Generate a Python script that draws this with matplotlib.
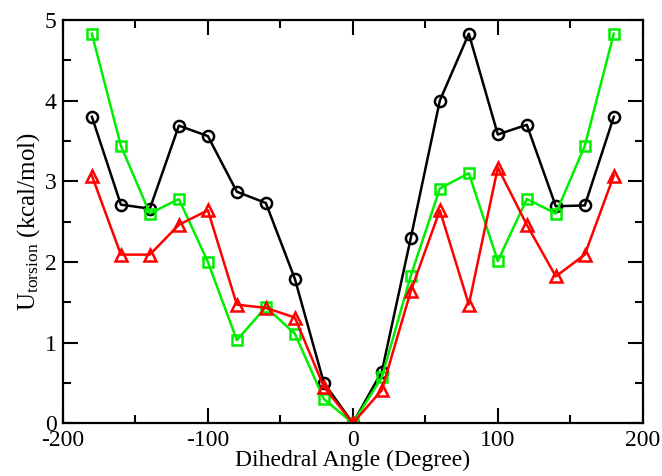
import matplotlib
matplotlib.use("Agg")
import matplotlib.pyplot as plt
from matplotlib.ticker import MultipleLocator

plt.rcParams['font.family'] = ['Liberation Serif', 'DejaVu Serif']
plt.rcParams['mathtext.fontset'] = 'custom'
plt.rcParams['mathtext.rm'] = 'Liberation Serif'
plt.rcParams['mathtext.it'] = 'Liberation Serif:italic'
plt.rcParams['axes.unicode_minus'] = False

angles = [-180, -160, -140, -120, -100, -80, -60, -40, -20, 0,
          20, 40, 60, 80, 100, 120, 140, 160, 180]
black_vals = [3.80, 2.71, 2.66, 3.69, 3.56, 2.87, 2.73, 1.79, 0.50, 0.0,
              0.64, 2.30, 4.00, 4.83, 3.58, 3.70, 2.69, 2.70, 3.80]
green_vals = [4.83, 3.44, 2.60, 2.78, 2.00, 1.03, 1.44, 1.11, 0.30, 0.0,
              0.57, 1.83, 2.91, 3.10, 2.01, 2.78, 2.60, 3.44, 4.83]
red_vals = [3.07, 2.09, 2.09, 2.46, 2.64, 1.47, 1.43, 1.31, 0.45, 0.0,
            0.41, 1.64, 2.64, 1.47, 3.17, 2.46, 1.82, 2.09, 3.07]

fig = plt.figure(figsize=(6.62, 4.76), dpi=100)
ax = fig.add_axes([0.095, 0.111, 0.876, 0.847])

lw = 1.8
ms = 8
mew = 1.8
ax.plot(angles, black_vals, color='black', lw=lw, marker='o', ms=ms,
        mfc='none', mec='black', mew=mew)
ax.plot(angles, green_vals, color='#00ee00', lw=lw, marker='s', ms=ms - 0.3,
        mfc='none', mec='#00ee00', mew=mew)
ax.plot(angles, red_vals, color='#ff0000', lw=lw, marker='^', ms=ms + 0.5,
        mfc='none', mec='#ff0000', mew=mew)

ax.set_xlim(-200, 200)
ax.set_ylim(0, 5)
ax.xaxis.set_major_locator(MultipleLocator(100))
ax.xaxis.set_minor_locator(MultipleLocator(50))
ax.yaxis.set_major_locator(MultipleLocator(1))
ax.yaxis.set_minor_locator(MultipleLocator(0.5))
ax.tick_params(which='both', direction='in', top=True, right=True,
               width=1.5, labelsize=17)
ax.tick_params(axis='x', which='major', pad=5)
ax.tick_params(axis='y', which='major', pad=4.5)
ax.tick_params(which='major', length=11)
ax.tick_params(which='minor', length=6)
for s in ax.spines.values():
    s.set_linewidth(1.6)

ax.set_xlabel('Dihedral Angle (Degree)', fontsize=17, labelpad=-1)
ax.set_ylabel(r'U$_{\mathrm{torsion}}$ (kcal/mol)', fontsize=18, labelpad=2)

fig.savefig('out.png', dpi=100)
